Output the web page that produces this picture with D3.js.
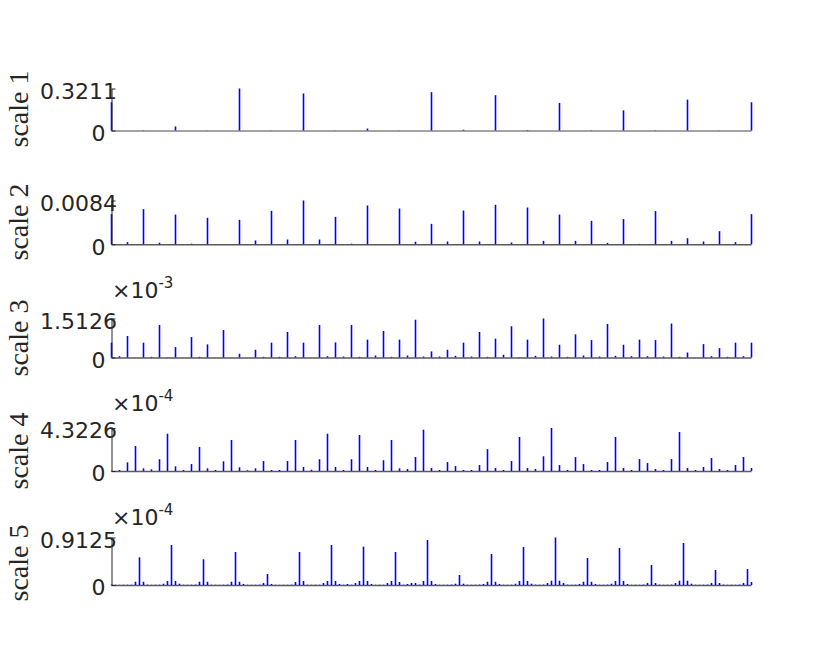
<!DOCTYPE html>
<html><head><meta charset="utf-8">
<script src="https://cdn.jsdelivr.net/npm/d3@7"></script>
<style>body{margin:0;background:#fff}svg{display:block}</style>
</head><body>
<svg id="chart" width="830" height="658"></svg>
<script>
// ---- data ----
const panelLabels = ["scale 1", "scale 2", "scale 3", "scale 4", "scale 5"];

const scale1 = [0.216, 0.002, 0.031, 0.001, 0.3211, 0.001, 0.283, 0.001, 0.015, 0.001,
  0.293, 0.006, 0.270, 0.004, 0.211, 0.002, 0.154, 0.002, 0.236, 0.001, 0.216];

const scale2 = [0.00578, 0.00039, 0.00674, 0.00029, 0.00570, 0.00010, 0.00507, 0.00002, 0.00468, 0.00071,
  0.00642, 0.00090, 0.00840, 0.00090, 0.00526, 0.00010, 0.00744, 0.00002, 0.00686, 0.00048,
  0.00391, 0.00052, 0.00647, 0.00052, 0.00757, 0.00033, 0.00705, 0.00064, 0.00570, 0.00064,
  0.00449, 0.00025, 0.00482, 0.00006, 0.00636, 0.00064, 0.00116, 0.00052, 0.00250, 0.00039, 0.00578];

// displayed in units of 10^-3
const scale3 = [0.575, 0.051, 0.833, 0.004, 0.575, 0.027, 1.263, 0.012, 0.403, 0.004,
  0.794, 0.027, 0.508, 0.004, 1.067, 0.004, 0.145, 0.004, 0.301, 0.027,
  0.575, 0.027, 0.989, 0.051, 0.575, 0.004, 1.263, 0.051, 0.586, 0.039,
  1.263, 0.027, 0.692, 0.078, 1.028, 0.027, 0.692, 0.078, 1.466, 0.039,
  0.235, 0.039, 0.301, 0.066, 0.575, 0.039, 0.989, 0.027, 0.731, 0.106,
  1.212, 0.012, 0.692, 0.066, 1.5126, 0.039, 0.496, 0.027, 0.899, 0.078,
  0.676, 0.039, 1.302, 0.066, 0.496, 0.051, 0.692, 0.051, 0.676, 0.039,
  1.317, 0.027, 0.195, 0.004, 0.520, 0.051, 0.364, 0.027, 0.575, 0.051, 0.575];

// displayed in units of 10^-4
const scale4 = [0.02, 0.10, 0.87, 2.51, 0.27, 0.17, 1.18, 3.75, 0.47, 0.10,
  0.70, 2.41, 0.27, 0.10, 0.97, 3.12, 0.37, 0.07, 0.27, 1.00,
  0.10, 0.10, 1.00, 3.12, 0.40, 0.13, 1.18, 3.75, 0.40, 0.10,
  1.18, 3.62, 0.40, 0.10, 1.08, 3.12, 0.27, 0.20, 1.41, 4.15,
  0.30, 0.10, 0.90, 0.50, 0.10, 0.10, 0.60, 2.20, 0.30, 0.10,
  1.00, 3.42, 0.30, 0.20, 1.48, 4.3226, 0.60, 0.10, 1.40, 0.70,
  0.10, 0.10, 0.90, 3.42, 0.30, 0.10, 1.20, 0.80, 0.20, 0.10,
  1.20, 3.92, 0.30, 0.10, 0.40, 1.30, 0.20, 0.10, 0.60, 1.41, 0.30];

// displayed in units of 10^-4
const scale5 = [
  0.010, 0.005, 0.004, 0.005, 0.006, 0.005, 0.063, 0.532,
  0.063, 0.008, 0.004, 0.005, 0.006, 0.025, 0.077, 0.768,
  0.077, 0.025, 0.006, 0.005, 0.006, 0.008, 0.063, 0.494,
  0.063, 0.006, 0.005, 0.004, 0.006, 0.008, 0.063, 0.634,
  0.063, 0.019, 0.005, 0.004, 0.005, 0.006, 0.038, 0.211,
  0.019, 0.005, 0.004, 0.005, 0.004, 0.006, 0.058, 0.634,
  0.077, 0.006, 0.005, 0.006, 0.005, 0.038, 0.077, 0.768,
  0.077, 0.019, 0.005, 0.019, 0.006, 0.038, 0.077, 0.736,
  0.077, 0.019, 0.005, 0.006, 0.005, 0.038, 0.077, 0.634,
  0.058, 0.006, 0.019, 0.038, 0.038, 0.008, 0.077, 0.864,
  0.077, 0.019, 0.006, 0.005, 0.006, 0.008, 0.025, 0.192,
  0.025, 0.006, 0.005, 0.006, 0.008, 0.019, 0.063, 0.595,
  0.063, 0.019, 0.006, 0.005, 0.006, 0.025, 0.077, 0.730,
  0.077, 0.025, 0.008, 0.006, 0.008, 0.038, 0.083, 0.9125,
  0.083, 0.038, 0.008, 0.005, 0.006, 0.019, 0.063, 0.519,
  0.063, 0.019, 0.006, 0.005, 0.008, 0.025, 0.077, 0.711,
  0.077, 0.019, 0.005, 0.006, 0.005, 0.008, 0.038, 0.384,
  0.038, 0.008, 0.005, 0.006, 0.008, 0.038, 0.083, 0.807,
  0.083, 0.025, 0.006, 0.005, 0.006, 0.008, 0.038, 0.288,
  0.038, 0.008, 0.005, 0.006, 0.005, 0.008, 0.038, 0.307,
  0.058];

const seriesList = [scale1, scale2, scale3, scale4, scale5];
const tickMax = [0.3211, 0.0084, 1.5126, 4.3226, 0.9125];
const tickMaxLabels = ["0.3211", "0.0084", "1.5126", "4.3226", "0.9125"];
const exponents = [null, null, "-3", "-4", "-4"];

// ---- layout ----
const plotLeft = 111, plotRight = 751;
const baselines = [130.5, 244.2, 357.5, 471, 585];
const tickTops = [88.5, 200.5, 318.5, 428, 537.5];
const labelCenters = [109, 222, 338, 451, 563];
const serif = "'Liberation Serif', 'DejaVu Serif', 'Times New Roman', Times, serif";
const sans = "'DejaVu Sans', sans-serif";

const svg = d3.select("#chart");
svg.append("rect").attr("width", 830).attr("height", 658).attr("fill", "#fff");

seriesList.forEach((vals, p) => {
  const g = svg.append("g");
  const x = d3.scaleLinear().domain([0, vals.length - 1]).range([plotLeft, plotRight]);
  const y = d3.scaleLinear().domain([0, tickMax[p]]).range([baselines[p], tickTops[p]]);

  // x baseline (axis without ticks)
  const xAxis = g.append("g")
    .attr("transform", `translate(0,${y(0)})`)
    .call(d3.axisBottom(x).tickValues([]).tickSizeOuter(0));
  xAxis.select(".domain")
    .attr("stroke", p === 0 ? "#a3a3a3" : "#5a5a5a")
    .attr("stroke-width", p === 0 ? 2 : 1.4);

  // stems
  g.append("g").selectAll("line").data(vals).join("line")
    .attr("x1", (d, i) => x(i) + 0.5).attr("x2", (d, i) => x(i) + 0.5)
    .attr("y1", y(0)).attr("y2", d => y(d))
    .attr("stroke", "#0000ff").attr("stroke-width", 1.6);

  // y axis
  const yAxis = g.append("g")
    .attr("transform", `translate(${plotLeft + 0.5},0)`)
    .call(d3.axisLeft(y).tickValues([0, tickMax[p]]).tickSizeInner(-4).tickSizeOuter(0)
      .tickFormat((d, i) => i === 0 ? "0" : tickMaxLabels[p]));
  yAxis.select(".domain").attr("stroke", "#262626").attr("stroke-width", 1);
  yAxis.selectAll(".tick line").attr("stroke", "#262626");
  yAxis.selectAll(".tick text")
    .style("font-family", sans)
    .attr("font-size", 22)
    .attr("fill", "#262626")
    .attr("dy", "0.45em")
    .attr("x", (d, i) => i === 0 ? -6 : 5.5);

  // exponent label
  if (exponents[p]) {
    const t = g.append("text")
      .attr("x", plotLeft + 1).attr("y", y(0) - 60)
      .style("font-family", sans).attr("font-size", 22).attr("fill", "#262626");
    t.append("tspan").text("\u00d710");
    t.append("tspan").attr("dx", 0).attr("dy", -10).attr("font-size", 15).text(exponents[p]);
  }

  // y label
  g.append("text")
    .attr("transform", `translate(28,${labelCenters[p]}) rotate(-90)`)
    .attr("text-anchor", "middle")
    .style("font-family", serif)
    .attr("font-size", 28)
    .attr("fill", "#262626")
    .text(panelLabels[p]);
});
</script>
</body></html>
